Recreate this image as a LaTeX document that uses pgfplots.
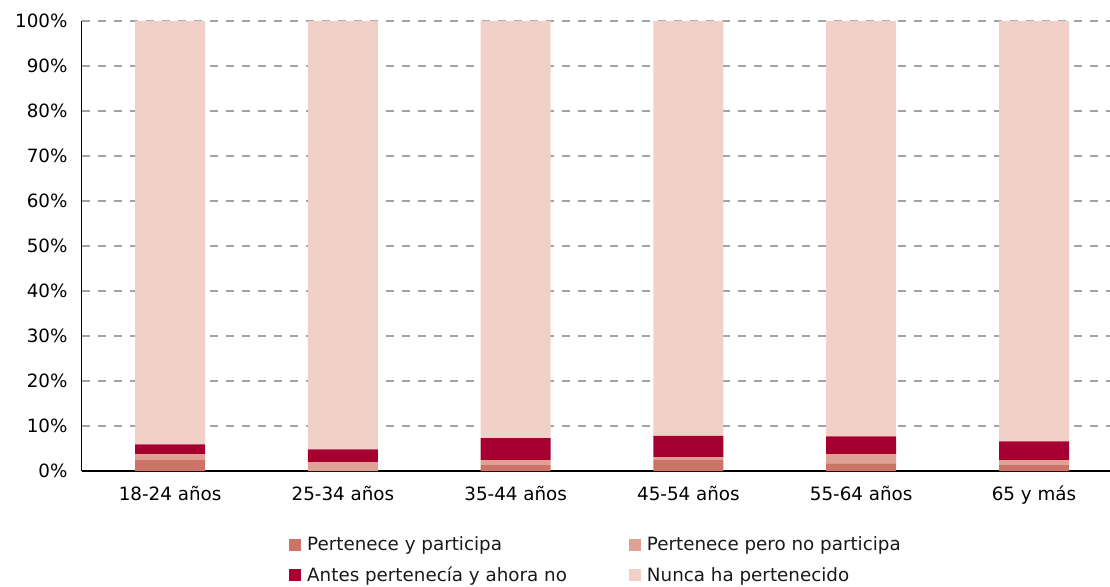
\documentclass[border=0pt]{standalone}
\usepackage{fontspec}
\setmainfont{DejaVu Sans}
\usepackage{pgfplots}
\pgfplotsset{compat=1.18}
\definecolor{cPart}{HTML}{CD7367}
\definecolor{cPero}{HTML}{E0A195}
\definecolor{cAntes}{HTML}{A50030}
\definecolor{cNunca}{HTML}{F0D0C7}
\begin{document}
\begin{tikzpicture}
\useasboundingbox (-82pt,-115pt) rectangle (1028pt,471pt);
\begin{axis}[
  at={(0,0)}, anchor=south west,
  scale only axis, width=1028pt, height=450pt,
  ybar stacked, bar width=70pt,
  xmin=-0.51, xmax=5.44, ymin=0, ymax=100,
  xtick=data,
  xticklabels={18-24 años,25-34 años,35-44 años,45-54 años,55-64 años,65 y más},
  ytick={0,10,...,100},
  yticklabel={\pgfmathprintnumber{\tick}\%},
  /pgf/number format/assume math mode=true,
  major tick length=0pt,
  axis x line*=bottom, axis y line*=left,
  x axis line style={line width=1.6pt, black, -},
  y axis line style={line width=1pt, black, -},
  ymajorgrids, grid style={line width=1.2pt, color=black!36, dash pattern=on 8pt off 8pt},
  tick label style={font=\fontsize{18.3}{22}\selectfont, text=black},
  xticklabel style={yshift=-12pt, text height=14pt, text depth=4pt},
  yticklabel style={xshift=-11pt},
  legend style={at={(0.5,-0.137)}, anchor=north, draw=none, fill=none,
    font=\fontsize{18.3}{22}\selectfont, text=black!90,
    legend columns=2, column sep=0pt, row sep=11pt,
    /tikz/column 1/.style={column sep=4pt},
    /tikz/column 3/.style={column sep=4pt},
    /tikz/column 2/.style={column sep=60pt}},
  legend cell align=left,
  legend image code/.code={\fill[#1] (0pt,-6pt) rectangle (12pt,6pt);},
]
\addplot[fill=cPart, draw=none] coordinates {(0,2.4) (1,0.0) (2,1.3) (3,2.4) (4,1.7) (5,1.3)};
\addplot[fill=cPero, draw=none] coordinates {(0,1.3) (1,1.9) (2,1.1) (3,0.7) (4,2.0) (5,1.1)};
\addplot[fill=cAntes, draw=none] coordinates {(0,2.2) (1,2.9) (2,4.9) (3,4.7) (4,4.0) (5,4.2)};
\addplot[fill=cNunca, draw=none] coordinates {(0,94.1) (1,95.2) (2,92.7) (3,92.2) (4,92.3) (5,93.4)};
\legend{Pertenece y participa, Pertenece pero no participa, Antes pertenecía y ahora no, Nunca ha pertenecido}
\end{axis}
\end{tikzpicture}
\end{document}
